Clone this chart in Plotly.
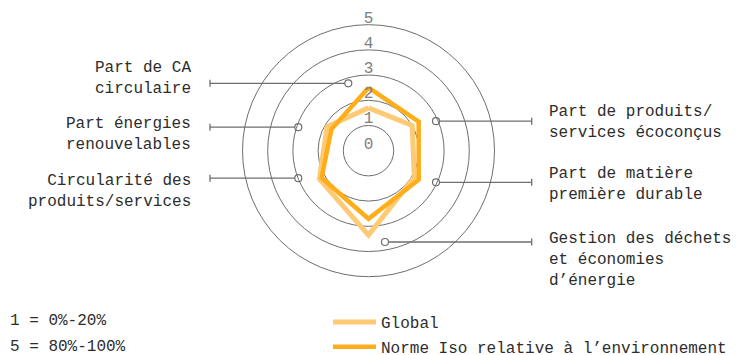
import plotly.graph_objects as go

categories = [
    "Part de CA circulaire",
    "Part de produits/services écoconçus",
    "Part de matière première durable",
    "Gestion des déchets et économies d'énergie",
    "Circularité des produits/services",
    "Part énergies renouvelables",
]
global_vals = [1.7, 2.0, 2.1, 3.35, 2.25, 1.9]
iso_vals = [2.5, 2.3, 2.3, 2.7, 2.15, 1.7]
series_names = ["Global", "Norme Iso relative à l’environnement"]
scale_ticks = [0, 1, 2, 3, 4, 5]
scale_notes = ["1 = 0%-20%", "5 = 80%-100%"]

# page has an 8px body margin: figure covers screen px 8..743 x 8..355
OFF = 8
W, H = 743 - OFF, 355 - OFF
cx, cy, R = 368.5, 150.7, 126   # screen px, R = radius of ring 5
RMAX = 5.45                     # radial range, leaves room for the "5" label
Rd = R * RMAX / 5
font = "Liberation Mono"
txt_color = "rgb(45,45,45)"
grid_color = "rgb(110,110,110)"
colors = ["rgb(255,202,118)", "rgb(255,174,26)"]
widths = [5, 4.5]

fig = go.Figure()

for vals, name, color, w in zip([global_vals, iso_vals], series_names, colors, widths):
    fig.add_trace(go.Scatterpolar(
        r=vals + vals[:1], theta=categories + categories[:1],
        mode="lines", name=name, legendgroup=name,
        line=dict(color=color, width=w),
    ))

# radial scale labels along the top axis, nudged just above each ring
label_lift = 0.24
fig.add_trace(go.Scatterpolar(
    r=[t + label_lift for t in scale_ticks], theta=[categories[0]] * len(scale_ticks),
    mode="text", text=[str(t) for t in scale_ticks],
    textposition="middle center",
    textfont=dict(family=font, size=16, color="rgb(125,125,125)"),
    showlegend=False, hoverinfo="skip",
))

# callouts (screen px on an overlay axis): marker point, line end x
callouts = [
    (348.3, 83.3, 210), (298.3, 127.2, 210), (298.3, 178.2, 210),
    (436, 121.2, 531.7), (436, 182.3, 531.7), (385, 242, 531.7),
]
for mx, my, ex in callouts:
    fig.add_trace(go.Scatter(
        x=[ex, ex, None, ex, mx], y=[my - 3.5, my + 3.5, None, my, my],
        mode="lines", line=dict(color=grid_color, width=1.3),
        showlegend=False, hoverinfo="skip",
    ))
fig.add_trace(go.Scatter(
    x=[c[0] for c in callouts], y=[c[1] for c in callouts], mode="markers",
    marker=dict(size=7, color="white", line=dict(color=grid_color, width=1.2)),
    showlegend=False, hoverinfo="skip",
))

labels_left = [
    ("Part de CA<br>circulaire", 78.5),
    ("Part énergies<br>renouvelables", 134.5),
    ("Circularité des<br>produits/services", 191),
]
labels_right = [
    ("Part de produits/<br>services écoconçus", 122.5),
    ("Part de matière<br>première durable", 184.5),
    ("Gestion des déchets<br>et économies<br>d’énergie", 260),
]
annotations = []
for text, y in labels_left:
    annotations.append(dict(xref="x", yref="y", x=193, y=y, text=text,
                            xanchor="right", yanchor="middle", align="right",
                            showarrow=False,
                            font=dict(family=font, size=16, color=txt_color)))
for text, y in labels_right:
    annotations.append(dict(xref="x", yref="y", x=547, y=y, text=text,
                            xanchor="left", yanchor="middle", align="left",
                            showarrow=False,
                            font=dict(family=font, size=16, color=txt_color)))
for i, note in enumerate(scale_notes):
    annotations.append(dict(xref="x", yref="y", x=8, y=321 + 26 * i, text=note,
                            xanchor="left", yanchor="middle", showarrow=False,
                            font=dict(family=font, size=16, color=txt_color)))

fig.update_layout(
    width=W, height=H,
    margin=dict(l=0, r=0, t=0, b=0, autoexpand=False),
    paper_bgcolor="white", plot_bgcolor="rgba(0,0,0,0)",
    xaxis=dict(range=[OFF, 743], visible=False, domain=[0, 1], fixedrange=True),
    yaxis=dict(range=[355, OFF], visible=False, domain=[0, 1], fixedrange=True),
    polar=dict(
        domain=dict(x=[(cx - OFF - Rd) / W, (cx - OFF + Rd) / W],
                    y=[(355 - cy - Rd) / H, (355 - cy + Rd) / H]),
        bgcolor="rgba(0,0,0,0)",
        angularaxis=dict(rotation=90, direction="clockwise",
                         showticklabels=False, showgrid=False, ticks="",
                         showline=False),
        radialaxis=dict(range=[0, RMAX], tickvals=[1, 2, 3, 4, 5],
                        showticklabels=False, showline=False, ticks="",
                        gridcolor=grid_color, gridwidth=1),
    ),
    legend=dict(x=(328 - OFF) / W, y=(355 - 305) / H, xanchor="left", yanchor="top",
                font=dict(family=font, size=16, color=txt_color),
                bgcolor="rgba(0,0,0,0)", tracegroupgap=1, itemwidth=43),
    annotations=annotations,
    showlegend=True,
)

fig.write_html("out.html")
